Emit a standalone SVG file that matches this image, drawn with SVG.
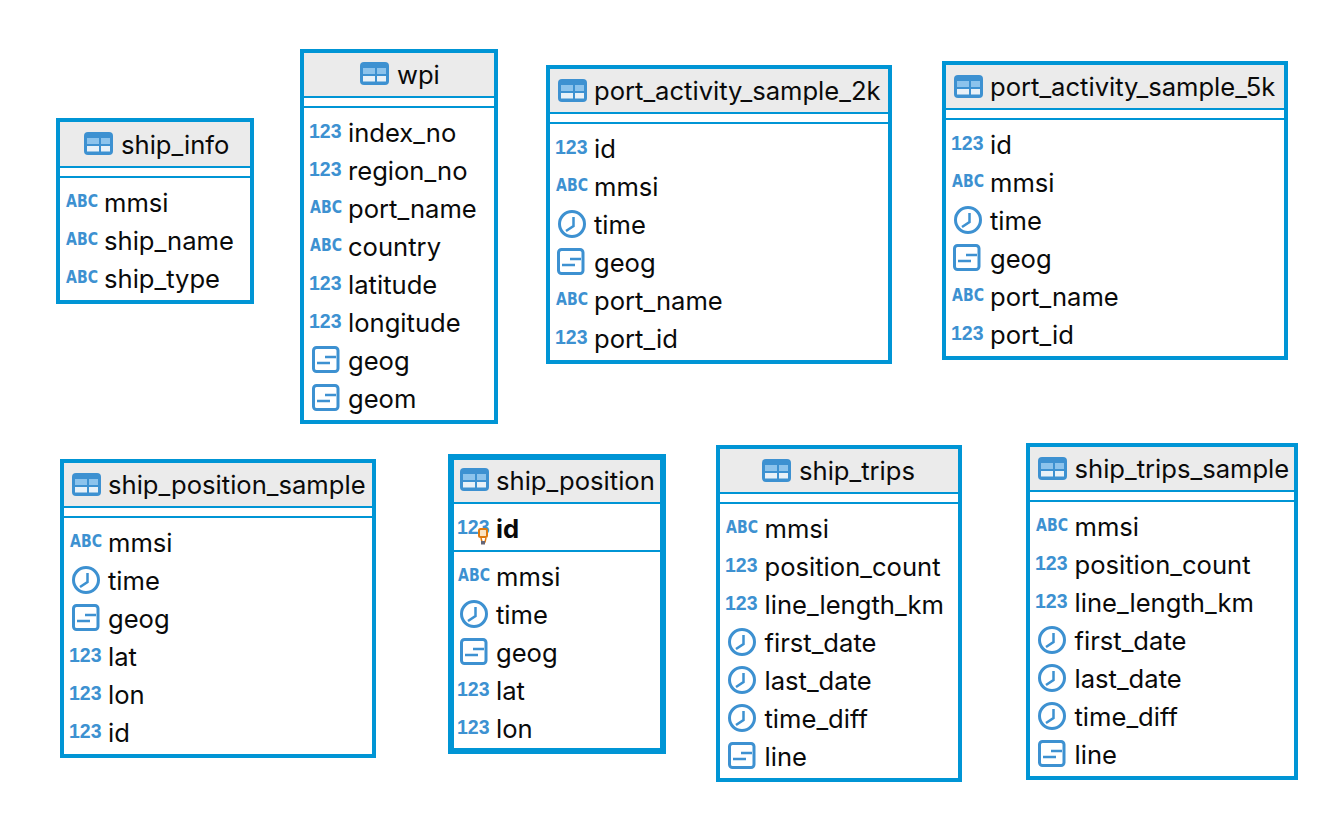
<svg xmlns="http://www.w3.org/2000/svg" width="1322" height="814" viewBox="0 0 1322 814">
<style>
.box{fill:#fff;stroke:#0095d5;stroke-width:4}
.thick{stroke-width:6}
.head{fill:#ebebeb}
.sep{stroke:#0095d5;stroke-width:2}
text{font-family:"Inter","Liberation Sans",sans-serif;font-size:25.6px;fill:#0a0a0a}
.b{font-weight:700}
text.t{font-family:"Liberation Sans",sans-serif;font-size:19.5px;font-weight:700;fill:#3d91d1}
text.a{font-family:"DejaVu Sans",sans-serif;font-size:18px;font-weight:700;fill:#3d91d1}
.ic{fill:none;stroke:#3d91d1;stroke-width:3}
.ln{fill:none;stroke:#3d91d1;stroke-width:2.500}
</style>
<defs>
<g id="tbl"><rect x="0" y="0" width="29" height="23" rx="4" fill="#3d91d1"/><rect x="3" y="6" width="12" height="6" fill="#8cc3ec"/><rect x="17" y="6" width="9" height="6" fill="#8cc3ec"/><rect x="3" y="14" width="12" height="5.500" fill="#e8f1f8"/><rect x="17" y="14" width="9" height="5.500" fill="#e8f1f8"/></g>
<g id="clk"><circle cx="14" cy="14" r="12.500" class="ic"/><path d="M15.500 7V16L8 21" class="ln"/></g>
<g id="geo"><rect x="1.500" y="1.500" width="24.500" height="24" rx="3" class="ic"/><path d="M13 11H24M5 17H18" class="ln"/></g>
<g id="key"><rect x="-4" y="-4" width="8" height="8" rx="1.500" fill="#fbe5c4" stroke="#dd7a10" stroke-width="2"/><path d="M-2 5L-1 9H2L3 5" fill="#fff" stroke="#dd7a10" stroke-width="1.500"/><rect x="-2" y="8" width="4" height="3.500" fill="#667"/></g>
</defs>

<g id="ship_info">
<rect class="box" x="58" y="120" width="194" height="182"/>
<rect class="head" x="60" y="122" width="190" height="44"/>
<path class="sep" d="M60 167H250M60 177H250"/>
<use href="#tbl" x="84" y="132"/><text x="121" y="154">ship_info</text>
<text class="a" x="66" y="207" textLength="32" lengthAdjust="spacingAndGlyphs">ABC</text><text x="104" y="212">mmsi</text>
<text class="a" x="66" y="245" textLength="32" lengthAdjust="spacingAndGlyphs">ABC</text><text x="104" y="250">ship_name</text>
<text class="a" x="66" y="283" textLength="32" lengthAdjust="spacingAndGlyphs">ABC</text><text x="104" y="288">ship_type</text>
</g>

<g id="wpi">
<rect class="box" x="302" y="51" width="194" height="371"/>
<rect class="head" x="304" y="53" width="190" height="44"/>
<path class="sep" d="M304 97H494M304 107H494"/>
<use href="#tbl" x="360" y="62"/><text x="397" y="84">wpi</text>
<text class="t" x="309" y="138">123</text><text x="348" y="142">index_no</text>
<text class="t" x="309" y="176">123</text><text x="348" y="180">region_no</text>
<text class="a" x="310" y="213" textLength="32" lengthAdjust="spacingAndGlyphs">ABC</text><text x="348" y="218">port_name</text>
<text class="a" x="310" y="251" textLength="32" lengthAdjust="spacingAndGlyphs">ABC</text><text x="348" y="256">country</text>
<text class="t" x="309" y="290">123</text><text x="348" y="294">latitude</text>
<text class="t" x="309" y="328">123</text><text x="348" y="332">longitude</text>
<use href="#geo" x="312" y="346"/><text x="348" y="370">geog</text>
<use href="#geo" x="312" y="384"/><text x="348" y="408">geom</text>
</g>

<g id="port_activity_sample_2k">
<rect class="box" x="548" y="67" width="342" height="295"/>
<rect class="head" x="550" y="69" width="338" height="44"/>
<path class="sep" d="M550 113H888M550 123H888"/>
<use href="#tbl" x="558" y="79"/><text x="594" y="100">port_activity_sample_2k</text>
<text class="t" x="555" y="154">123</text><text x="594" y="158">id</text>
<text class="a" x="556" y="191" textLength="32" lengthAdjust="spacingAndGlyphs">ABC</text><text x="594" y="196">mmsi</text>
<use href="#clk" x="558" y="210"/><text x="594" y="234">time</text>
<use href="#geo" x="557" y="248"/><text x="594" y="272">geog</text>
<text class="a" x="556" y="305" textLength="32" lengthAdjust="spacingAndGlyphs">ABC</text><text x="594" y="310">port_name</text>
<text class="t" x="555" y="344">123</text><text x="594" y="348">port_id</text>
</g>

<g id="port_activity_sample_5k">
<rect class="box" x="944" y="63" width="342" height="295"/>
<rect class="head" x="946" y="65" width="338" height="44"/>
<path class="sep" d="M946 109H1284M946 119H1284"/>
<use href="#tbl" x="954" y="75"/><text x="990" y="96">port_activity_sample_5k</text>
<text class="t" x="951" y="150">123</text><text x="990" y="154">id</text>
<text class="a" x="952" y="187" textLength="32" lengthAdjust="spacingAndGlyphs">ABC</text><text x="990" y="192">mmsi</text>
<use href="#clk" x="954" y="206"/><text x="990" y="230">time</text>
<use href="#geo" x="953" y="244"/><text x="990" y="268">geog</text>
<text class="a" x="952" y="301" textLength="32" lengthAdjust="spacingAndGlyphs">ABC</text><text x="990" y="306">port_name</text>
<text class="t" x="951" y="340">123</text><text x="990" y="344">port_id</text>
</g>

<g id="ship_position_sample">
<rect class="box" x="62" y="461" width="312" height="295"/>
<rect class="head" x="64" y="463" width="308" height="44"/>
<path class="sep" d="M64 507H372M64 517H372"/>
<use href="#tbl" x="72" y="473"/><text x="108" y="494">ship_position_sample</text>
<text class="a" x="70" y="547" textLength="32" lengthAdjust="spacingAndGlyphs">ABC</text><text x="108" y="552">mmsi</text>
<use href="#clk" x="72" y="566"/><text x="108" y="590">time</text>
<use href="#geo" x="72" y="604"/><text x="108" y="628">geog</text>
<text class="t" x="69" y="662">123</text><text x="108" y="666">lat</text>
<text class="t" x="69" y="700">123</text><text x="108" y="704">lon</text>
<text class="t" x="69" y="738">123</text><text x="108" y="742">id</text>
</g>

<g id="ship_position">
<rect class="box thick" x="451" y="457" width="212" height="294"/>
<rect class="head" x="454" y="460" width="206" height="42"/>
<path class="sep" d="M454 503H660M454 551H660"/>
<use href="#tbl" x="460" y="468"/><text x="496" y="490">ship_position</text>
<text class="t" x="457" y="534">123</text><use href="#key" x="483" y="533"/><text class="b" x="496" y="538">id</text>
<text class="a" x="458" y="581" textLength="32" lengthAdjust="spacingAndGlyphs">ABC</text><text x="496" y="586">mmsi</text>
<use href="#clk" x="460" y="600"/><text x="496" y="624">time</text>
<use href="#geo" x="460" y="638"/><text x="496" y="662">geog</text>
<text class="t" x="457" y="696">123</text><text x="496" y="700">lat</text>
<text class="t" x="457" y="734">123</text><text x="496" y="738">lon</text>
</g>

<g id="ship_trips">
<rect class="box" x="718" y="447" width="242" height="333"/>
<rect class="head" x="720" y="449" width="238" height="44"/>
<path class="sep" d="M720 493H958M720 503H958"/>
<use href="#tbl" x="762" y="459"/><text x="799" y="480">ship_trips</text>
<text class="a" x="726" y="533" textLength="32" lengthAdjust="spacingAndGlyphs">ABC</text><text x="764.500" y="538">mmsi</text>
<text class="t" x="725" y="572">123</text><text x="764.500" y="576">position_count</text>
<text class="t" x="725" y="610">123</text><text x="764.500" y="614">line_length_km</text>
<use href="#clk" x="728" y="628"/><text x="764.500" y="652">first_date</text>
<use href="#clk" x="728" y="666"/><text x="764.500" y="690">last_date</text>
<use href="#clk" x="728" y="704"/><text x="764.500" y="728">time_diff</text>
<use href="#geo" x="728" y="742"/><text x="764.500" y="766">line</text>
</g>

<g id="ship_trips_sample">
<rect class="box" x="1028" y="445" width="268" height="333"/>
<rect class="head" x="1030" y="447" width="264" height="44"/>
<path class="sep" d="M1030 491H1294M1030 501H1294"/>
<use href="#tbl" x="1038" y="457"/><text x="1074.500" y="478">ship_trips_sample</text>
<text class="a" x="1036" y="531" textLength="32" lengthAdjust="spacingAndGlyphs">ABC</text><text x="1074.500" y="536">mmsi</text>
<text class="t" x="1035" y="570">123</text><text x="1074.500" y="574">position_count</text>
<text class="t" x="1035" y="608">123</text><text x="1074.500" y="612">line_length_km</text>
<use href="#clk" x="1038" y="626"/><text x="1074.500" y="650">first_date</text>
<use href="#clk" x="1038" y="664"/><text x="1074.500" y="688">last_date</text>
<use href="#clk" x="1038" y="702"/><text x="1074.500" y="726">time_diff</text>
<use href="#geo" x="1038" y="740"/><text x="1074.500" y="764">line</text>
</g>
<g id="connectors"></g>
</svg>
